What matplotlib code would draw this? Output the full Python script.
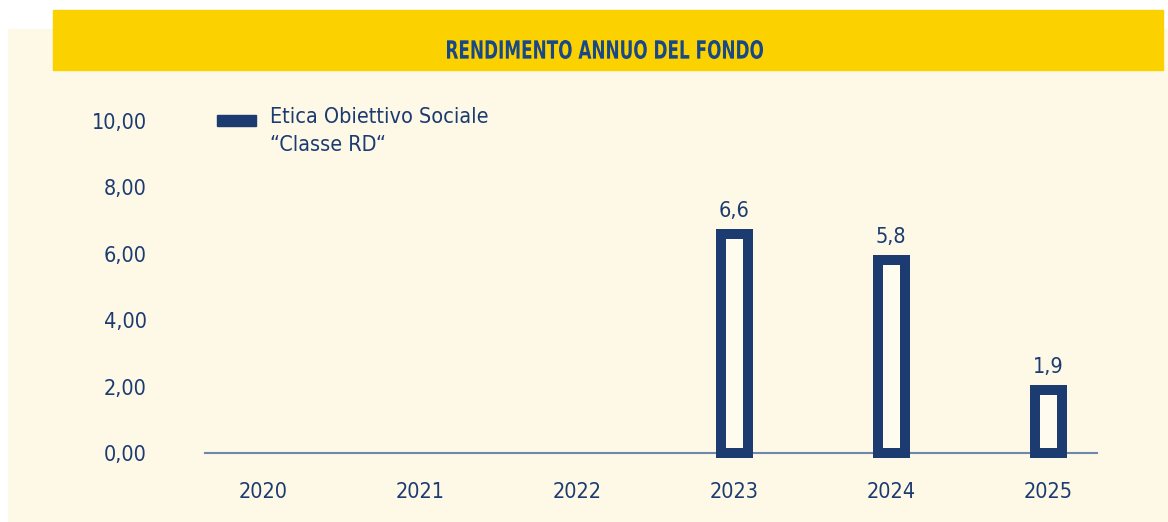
import matplotlib
matplotlib.use("Agg")
import matplotlib.pyplot as plt
from matplotlib.font_manager import FontProperties
from matplotlib.patches import Rectangle, PathPatch
from matplotlib.textpath import TextPath
from matplotlib.transforms import Affine2D, IdentityTransform

# dati
anni = ["2020", "2021", "2022", "2023", "2024", "2025"]
rendimento = [None, None, None, 6.6, 5.8, 1.9]
etichette = ["", "", "", "6,6", "5,8", "1,9"]
yticks = [0, 2, 4, 6, 8, 10]
yticklabels = ["0,00", "2,00", "4,00", "6,00", "8,00", "10,00"]
titolo = "RENDIMENTO ANNUO DEL FONDO"
legenda = "Etica Obiettivo Sociale\n“Classe RD“"

blu = "#1b3b71"
blu_titolo = "#184886"
giallo = "#fcd100"
crema = "#fef8e6"

W, H = 1168, 522
fig = plt.figure(figsize=(W / 100, H / 100), dpi=100)
fig.patch.set_facecolor("white")

# sfondo crema e fascia gialla
fig.patches.append(Rectangle((8 / W, 0), 1 - 8 / W, 1 - 29 / H,
                             transform=fig.transFigure, color=crema, zorder=0))
fig.patches.append(Rectangle((53 / W, 1 - 70 / H), (1163 - 53) / W, 60 / H,
                             transform=fig.transFigure, color=giallo, zorder=1))

# titolo compresso orizzontalmente (carattere molto stretto)
fp = FontProperties(family="DejaVu Sans", weight="bold", stretch="condensed")
tp = TextPath((0, 0), titolo, size=26, prop=fp)
bb = tp.get_extents()
sx = (763 - 447) / bb.width
sy = 19 / bb.height
tr = Affine2D().translate(-bb.x0, -bb.y0).scale(sx, sy).translate(447, H - 59)
fig.patches.append(PathPatch(tr.transform_path(tp), transform=IdentityTransform(),
                             facecolor=blu_titolo, edgecolor="none", zorder=3))

ax = fig.add_axes([205 / W, 1 - 453 / H, (1097 - 205) / W, (453 - 121) / H])
ax.set_facecolor("none")
ax.set_zorder(5)

x = list(range(len(anni)))
for i, v in enumerate(rendimento):
    if v is None:
        continue
    ax.bar(i, v, width=0.17, facecolor="#fffbee", edgecolor=blu, linewidth=7.2,
           clip_on=False, zorder=3)
    ax.text(i, v + 0.4, etichette[i], ha="center", va="bottom",
            fontsize=15.5, color=blu, fontstretch="condensed")

ax.set_xlim(-0.37, 5.31)
ax.set_ylim(0, 10)
ax.set_xticks(x)
ax.set_xticklabels(anni, fontstretch="condensed")
ax.set_yticks(yticks)
ax.set_yticklabels(yticklabels, fontstretch="condensed")
ax.tick_params(axis="both", length=0, labelsize=15.5, labelcolor=blu)
ax.tick_params(axis="y", pad=42)
ax.tick_params(axis="x", pad=21)
for s in ["top", "right", "left"]:
    ax.spines[s].set_visible(False)
ax.spines["bottom"].set_color("#6f87ab")
ax.spines["bottom"].set_linewidth(1.5)

# legenda
fig.patches.append(Rectangle((217 / W, 1 - 126 / H), 39 / W, 11 / H,
                             transform=fig.transFigure, color=blu, zorder=2))
fig.text(270 / W, 1 - 107 / H, legenda, ha="left", va="top",
         fontsize=15.5, color=blu, fontstretch="condensed", linespacing=1.5, zorder=3)

fig.savefig("out.png", dpi=100, facecolor=fig.get_facecolor())
